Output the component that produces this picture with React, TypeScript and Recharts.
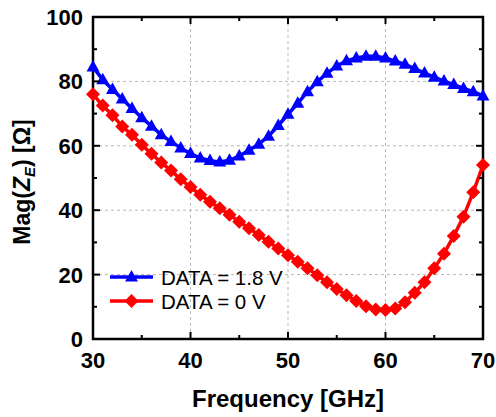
import React from "react";
import {
  LineChart,
  Line,
  XAxis,
  YAxis,
  CartesianGrid,
  ReferenceArea,
} from "recharts";

// frequency points [GHz]
const freq = [
  30, 31, 32, 33, 34, 35, 36, 37, 38, 39, 40, 41, 42, 43, 44, 45, 46, 47, 48,
  49, 50, 51, 52, 53, 54, 55, 56, 57, 58, 59, 60, 61, 62, 63, 64, 65, 66, 67,
  68, 69, 70,
];

// Mag(Z_E) for DATA = 1.8 V
const magHigh = [
  84.5, 80.5, 77.5, 74.5, 71.6, 68.7, 66.1, 63.4, 61.3, 59.3, 57.6, 56.2, 55.4,
  55.0, 55.5, 56.8, 58.6, 60.5, 63.0, 66.3, 69.8, 73.2, 76.8, 79.9, 82.5, 84.8,
  86.4, 87.3, 87.8, 87.8, 87.3, 86.3, 85.3, 84.0, 82.6, 81.3, 80.1, 79.0, 77.8,
  76.8, 75.5,
];

// Mag(Z_E) for DATA = 0 V
const magLow = [
  76.0, 72.5, 69.5, 66.0, 63.4, 60.3, 57.5, 54.8, 52.3, 49.6, 47.2, 44.8, 42.6,
  40.6, 38.6, 36.4, 34.4, 32.3, 30.2, 28.1, 26.0, 24.0, 22.0, 19.8, 17.6, 15.5,
  13.6, 11.8, 10.2, 9.2, 9.0, 9.5, 11.4, 14.4, 17.6, 22.0, 26.5, 32.0, 38.0,
  45.6, 54.0,
];

const xTicks = [30, 35, 40, 45, 50, 55, 60, 65, 70];
const yTicks = [0, 10, 20, 30, 40, 50, 60, 70, 80, 90, 100];
const xGrid = [40, 50, 60];
const yGrid = [20, 40, 60, 80];

const seriesNames = ["DATA = 1.8 V", "DATA = 0 V"];

const data = freq.map((f, i) => ({ f, high: magHigh[i], low: magLow[i] }));

const W = 496;
const H = 417;
const PLOT_LEFT = 93;
const PLOT_RIGHT = 483;
const PLOT_TOP = 17;
const PLOT_BOTTOM = 339;
const FONT = "'Liberation Sans', Arial, sans-serif";

const BLUE = "#0000ff";
const RED = "#ff0000";

const triangle = (cx: number, cy: number) =>
  `M${cx},${cy - 7} L${cx + 6.5},${cy + 4.5} L${cx - 6.5},${cy + 4.5} Z`;
const diamond = (cx: number, cy: number) =>
  `M${cx},${cy - 7} L${cx + 7},${cy} L${cx},${cy + 7} L${cx - 7},${cy} Z`;

const TriangleDot = (props: any) => {
  const { cx, cy, index } = props;
  if (cx == null || cy == null) return <g key={`t-${index}`} />;
  return <path key={`t-${index}`} d={triangle(cx, cy)} fill={BLUE} />;
};

const DiamondDot = (props: any) => {
  const { cx, cy, index } = props;
  if (cx == null || cy == null) return <g key={`d-${index}`} />;
  return <path key={`d-${index}`} d={diamond(cx, cy)} fill={RED} />;
};

// bottom axis tick: inward ticks on bottom and top of the box + label
const XTick = (props: any) => {
  const { x, payload } = props;
  const major = payload.value % 10 === 0;
  const len = major ? 7 : 4;
  return (
    <g>
      <line x1={x} x2={x} y1={PLOT_BOTTOM} y2={PLOT_BOTTOM - len} stroke="#000" strokeWidth={2} />
      <line x1={x} x2={x} y1={PLOT_TOP} y2={PLOT_TOP + len} stroke="#000" strokeWidth={2} />
      {major && (
        <text
          x={x}
          y={368}
          textAnchor="middle"
          fontFamily={FONT}
          fontWeight="bold"
          fontSize={22}
          fill="#000"
        >
          {payload.value}
        </text>
      )}
    </g>
  );
};

// left axis tick: inward ticks on left and right of the box + label
const YTick = (props: any) => {
  const { y, payload } = props;
  const major = payload.value % 20 === 0;
  const len = major ? 7 : 4;
  return (
    <g>
      <line x1={PLOT_LEFT} x2={PLOT_LEFT + len} y1={y} y2={y} stroke="#000" strokeWidth={2} />
      <line x1={PLOT_RIGHT} x2={PLOT_RIGHT - len} y1={y} y2={y} stroke="#000" strokeWidth={2} />
      {major && (
        <text
          x={83}
          y={y + 8}
          textAnchor="end"
          fontFamily={FONT}
          fontWeight="bold"
          fontSize={22}
          fill="#000"
        >
          {payload.value}
        </text>
      )}
    </g>
  );
};

const XTitle = (props: any) => {
  const { viewBox } = props;
  return (
    <text
      x={viewBox.x + viewBox.width / 2}
      y={407}
      textAnchor="middle"
      fontFamily={FONT}
      fontWeight="bold"
      fontSize={24}
      fill="#000"
    >
      Frequency [GHz]
    </text>
  );
};

const YTitle = (props: any) => {
  const { viewBox } = props;
  const cy = viewBox.y + viewBox.height / 2;
  return (
    <text
      transform={`translate(30, ${cy + 4}) rotate(-90)`}
      textAnchor="middle"
      fontFamily={FONT}
      fontWeight="bold"
      fontSize={23}
      fill="#000"
    >
      Mag(
      <tspan fontStyle="italic">Z</tspan>
      <tspan fontStyle="italic" fontSize={15} dy={5}>
        E
      </tspan>
      <tspan dy={-5}>) [Ω]</tspan>
    </text>
  );
};

const LegendOverlay = () => {
  const rows = [
    { name: seriesNames[0], color: BLUE, y: 277, marker: triangle },
    { name: seriesNames[1], color: RED, y: 301, marker: diamond },
  ];
  return (
    <svg
      width={W}
      height={H}
      style={{ position: "absolute", left: 0, top: 0, pointerEvents: "none" }}
    >
      {rows.map((r) => (
        <g key={r.name}>
          <line x1={110} x2={153} y1={r.y} y2={r.y} stroke={r.color} strokeWidth={3.5} />
          <path d={r.marker(131.5, r.y)} fill={r.color} />
          <text
            x={161}
            y={r.y + 7.5}
            fontFamily={FONT}
            fontSize={20.5}
            fill="#000"
          >
            {r.name}
          </text>
        </g>
      ))}
    </svg>
  );
};

export default function App() {
  return (
    <div style={{ position: "absolute", left: 0, top: 0, width: W, height: H, background: "#fff" }}>
      <LineChart
        width={W}
        height={H}
        data={data}
        margin={{ top: PLOT_TOP, right: W - PLOT_RIGHT, bottom: 0, left: 0 }}
      >
        <CartesianGrid
          stroke="#b8b8b8"
          strokeDasharray="3 3"
          strokeWidth={1}
          horizontalValues={yGrid}
          verticalValues={xGrid}
        />
        <XAxis
          dataKey="f"
          type="number"
          domain={[30, 70]}
          ticks={xTicks}
          interval={0}
          height={H - PLOT_BOTTOM}
          axisLine={false}
          tickLine={false}
          tick={<XTick />}
          label={<XTitle />}
        />
        <YAxis
          type="number"
          domain={[0, 100]}
          ticks={yTicks}
          interval={0}
          width={PLOT_LEFT}
          axisLine={false}
          tickLine={false}
          tick={<YTick />}
          label={<YTitle />}
        />
        <Line
          dataKey="low"
          stroke={RED}
          strokeWidth={3.5}
          dot={<DiamondDot />}
          isAnimationActive={false}
        />
        <Line
          dataKey="high"
          stroke={BLUE}
          strokeWidth={3.5}
          dot={<TriangleDot />}
          isAnimationActive={false}
        />
        <ReferenceArea
          x1={30}
          x2={70}
          y1={0}
          y2={100}
          fill="none"
          fillOpacity={0}
          stroke="#000"
          strokeWidth={2.5}
        />
      </LineChart>
      <LegendOverlay />
    </div>
  );
}
